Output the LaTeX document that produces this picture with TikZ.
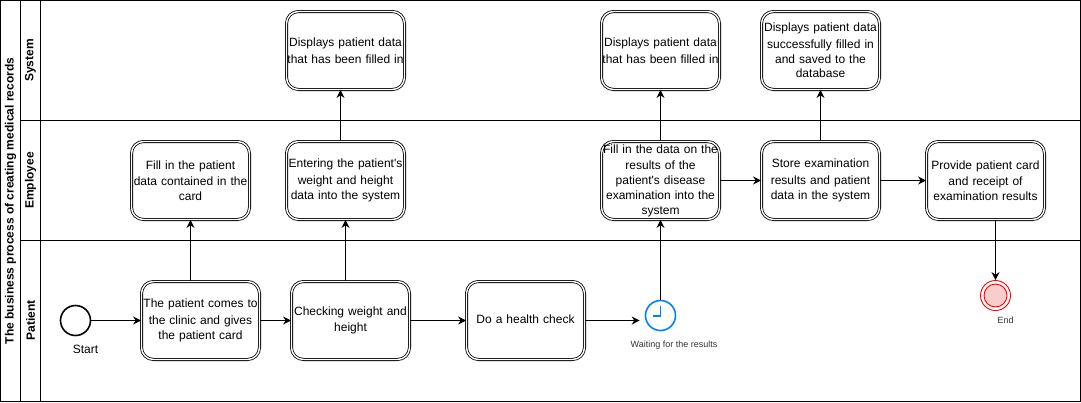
\documentclass[tikz,border=0pt]{standalone}
\usepackage{fontspec}
\setmainfont{Liberation Sans}[Ligatures=TeXOff]
\usetikzlibrary{arrows.meta}
\definecolor{clockblue}{RGB}{0,127,255}
\definecolor{endfill}{RGB}{248,206,204}
\tikzset{
  lane/.style={draw=black,line width=1pt,fill=none},
  lanetitle/.style={font=\fontsize{12}{14}\selectfont\bfseries,rotate=90,inner sep=0pt},
  task/.style={draw=black,line width=.8pt,double=white,double distance=1.4pt,rounded corners=12pt,minimum height=78pt,inner sep=0pt,align=center,font=\fontsize{12}{14.7}\selectfont,text width=118pt,execute at begin node={\vspace*{2pt}}},
  arr/.style={draw=black,line width=1pt,-{Stealth[length=8pt,width=8pt]}},
  startev/.style={circle,draw=black,line width=1.6pt,minimum size=30pt,inner sep=0pt},
  timer/.style={circle,draw=clockblue,line width=1.6pt,minimum size=30pt,inner sep=0pt},
  timerhand/.style={draw=clockblue,line width=1.2pt},
  endev/.style={circle,draw=red,line width=.9pt,minimum size=30pt,inner sep=0pt},
  endin/.style={circle,draw=red,line width=.9pt,fill=endfill,minimum size=23pt,inner sep=0pt},
  lab/.style={font=\fontsize{12}{14}\selectfont,inner sep=0pt},
  smalllab/.style={font=\fontsize{9}{11}\selectfont,inner sep=0pt,text=black!80}
}
\begin{document}
\begin{tikzpicture}[x=1pt,y=-1pt]
\useasboundingbox (0,0) rectangle (1081,402);
% pool and lanes
\draw[lane] (0.5,0.5) rectangle (1080.5,401);
\draw[lane] (20.5,0.5) -- (20.5,401);
\draw[lane] (40.5,0.5) -- (40.5,401);
\draw[lane] (20.5,120.5) -- (1080.5,120.5);
\draw[lane] (20.5,240.5) -- (1080.5,240.5);
\node[lanetitle] (pool) at (10.5,201) {The business process of creating medical records};
\node[lanetitle] (lsys) at (30.5,60.5) {System};
\node[lanetitle] (lemp) at (30.5,180.5) {Employee};
\node[lanetitle] (lpat) at (30.5,320.5) {Patient};
% patient lane
\node[startev] (start) at (75.5,320.5) {};
\node[lab] (startlab) at (85.5,349.5) {Start};
\node[task] (p1) at (200.5,320.5) {The patient comes to\\the clinic and gives\\the patient card};
\node[task] (p2) at (350.5,320.5) {Checking weight and\\height};
\node[task] (p3) at (525.5,320.5) {Do a health check};
\node[timer] (clock) at (660.5,315.5) {};
\draw[timerhand] (660.5,305.5) -- (660.5,316) -- (653,316);
\node[smalllab] (clocklab) at (674,345.5) {Waiting for the results};
\node[endev] (endo) at (995.5,295.5) {};
\node[endin] (endi) at (995.5,295.5) {};
\node[smalllab] (endlab) at (1005.5,320) {End};
% employee lane
\node[task] (e1) at (190.5,180.5) {Fill in the patient\\data contained in the\\card};
\node[task] (e2) at (345.5,180.5) {Entering the patient's\\weight and height\\data into the system};
\node[task] (e3) at (660.5,180.5) {Fill in the data on the\\results of the\\patient's disease\\examination into the\\system};
\node[task] (e4) at (820.5,180.5) {Store examination\\results and patient\\data in the system};
\node[task] (e5) at (985.5,180.5) {Provide patient card\\and receipt of\\examination results};
% system lane
\node[task] (s1) at (345.5,50.5) {Displays patient data\\that has been filled in};
\node[task] (s2) at (660.5,50.5) {Displays patient data\\that has been filled in};
\node[task] (s3) at (820.5,50.5) {Displays patient data\\successfully filled in\\and saved to the\\database};
% connectors
\draw[arr] (start) -- (p1);
\draw[arr] (p1) -- (p2);
\draw[arr] (p2) -- (p3);
\draw[arr,shorten >=5pt] (p3.east) -- (clock.west |- p3.east);
\draw[arr] (e1.south |- p1.north) -- (e1.south);
\draw[arr] (e2.south |- p2.north) -- (e2.south);
\draw[arr] (clock.north) -- (e3.south);
\draw[arr] ([xshift=-5pt]e2.north) -- ([xshift=-5pt]s1.south);
\draw[arr] (e3) -- (s2);
\draw[arr] (e4) -- (s3);
\draw[arr] (e3) -- (e4);
\draw[arr] (e4) -- (e5);
\draw[arr] (endo.north |- e5.south) -- (endo.north);
\end{tikzpicture}
\end{document}
